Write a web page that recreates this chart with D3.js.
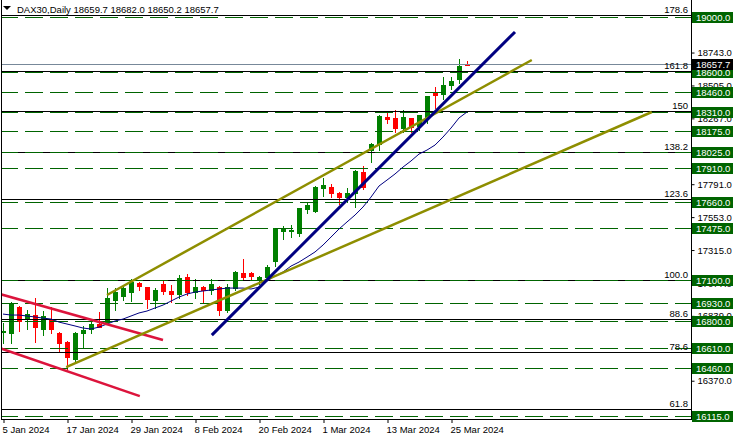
<!DOCTYPE html>
<html><head><meta charset="utf-8">
<script src="https://cdn.jsdelivr.net/npm/d3@7"></script>
<style>
body{margin:0;background:#fff;}
svg{display:block;}
text{font-family:"Liberation Sans",Arial,sans-serif;}
</style>
</head><body>
<svg id="c" width="736" height="439"></svg>
<script>
// ---------- DATA ----------
const symbolTitle = "DAX30,Daily";
const headerOHLC = ["18659.7", "18682.0", "18650.2", "18657.7"];
const dates = ["2024-01-05","2024-01-08","2024-01-09","2024-01-10","2024-01-11","2024-01-12","2024-01-15","2024-01-16","2024-01-17","2024-01-18","2024-01-19","2024-01-22","2024-01-23","2024-01-24","2024-01-25","2024-01-26","2024-01-29","2024-01-30","2024-01-31","2024-02-01","2024-02-02","2024-02-05","2024-02-06","2024-02-07","2024-02-08","2024-02-09","2024-02-12","2024-02-13","2024-02-14","2024-02-15","2024-02-16","2024-02-19","2024-02-20","2024-02-21","2024-02-22","2024-02-23","2024-02-26","2024-02-27","2024-02-28","2024-02-29","2024-03-01","2024-03-04","2024-03-05","2024-03-06","2024-03-07","2024-03-08","2024-03-11","2024-03-12","2024-03-13","2024-03-14","2024-03-15","2024-03-18","2024-03-19","2024-03-20","2024-03-21","2024-03-22","2024-03-25","2024-03-26","2024-03-27"];
const opens  = [16725,16715,16903,16816,16845,16744,16816,16715,16650,16527,16715,16744,16780,16794,16953,16982,17011,17076,17048,16953,17069,17019,16997,17120,17011,17048,17026,17048,16881,17040,17149,17149,17098,17120,17236,17452,17452,17438,17612,17597,17763,17771,17725,17700,17724,17879,18040,18085,18275,18270,18196,18270,18212,18279,18448,18443,18506,18549,18659.7];
const highs  = [16787,16939,16910,16881,16968,16874,16903,16722,16657,16720,16765,16802,16867,17040,17040,17062,17105,17084,17050,17040,17091,17062,17134,17142,17105,17055,17105,17055,17069,17163,17250,17156,17127,17207,17476,17489,17496,17621,17655,17778,17836,17792,17737,17763,17894,17923,18091,18291,18313,18324,18324,18273,18291,18432,18492,18564,18568,18694,18682.0];
const lows   = [16643,16643,16729,16744,16650,16700,16715,16585,16454,16505,16614,16715,16755,16780,16881,16953,16946,17026,16896,16896,16997,16939,16968,16990,16968,16939,16997,16845,16867,17026,17105,17098,17069,17105,17199,17395,17409,17416,17583,17590,17706,17700,17646,17664,17628,17754,17954,18038,18237,18165,18168,18168,18183,18236,18340,18405,18477,18525,18650.2];
const closes = [16730,16925,16802,16852,16758,16838,16744,16643,16541,16715,16736,16780,16758,16968,17011,17040,17084,17055,16961,17026,17019,16997,17113,17011,17048,17026,17069,16881,17048,17156,17120,17127,17120,17192,17474,17474,17460,17619,17640,17771,17785,17729,17696,17729,17886,17771,18082,18286,18262,18201,18275,18202,18289,18429,18438,18510,18539,18646,18657.7];
const movingAvg = [16852,16845,16845,16838,16831,16823,16816,16794,16780,16766,16751,16744,16758,16780,16802,16816,16838,16860,16874,16896,16917,16946,16975,16997,17011,17019,17026,17033,17040,17040,17040,17033,17047,17091,17127,17156,17199,17228,17264,17301,17351,17409,17467,17518,17568,17626,17698,17778,17821,17865,17915,17959,18009,18038,18074,18132,18197,18270,18313];
const srLevels = [19000,18600,18460,18310,18175,18025,17910,17660,17475,17100,16930,16800,16610,16460,16115];
const fibLabels = ["178.6","161.8","150","138.2","123.6","100.0","88.6","78.6","61.8"];
const fibPrices = [19015,18609,18322,18022,17685,17098,16814,16576,16163];
const priceTicks = [18743,18505,18267,17791,17553,17315,17077,16839,16370];
const dateTickIdx = [0,8,16,24,32,40,48,56];
const lastPrice = 18657.7;
// trend lines: [barIndex, price] endpoints
const redUpper   = [[-0.4,16997],[20,16664]];
const redLower   = [[-0.4,16606],[17.1,16259]];
const oliveLower = [[7.9,16469],[81.1,18313]];
const oliveUpper = [[13,16990],[66.1,18689]];
const navyLine   = [[26.1,16700],[64,18892]];

// ---------- CHART ----------
const svg = d3.select("#c");
const W = 736, H = 439, axisX = 691, bottomY = 419;
const yS = d3.scaleLinear().domain([16115,19000]).range([416,17]);
const xS = d3.scaleLinear().domain([0,58]).range([3,467]);
const parse = d3.timeParse("%Y-%m-%d"), fmt = d3.timeFormat("%-d %b %Y");

svg.append("rect").attr("width",W).attr("height",H).attr("fill","#fff");
svg.append("defs").append("clipPath").attr("id","clip")
  .append("rect").attr("x",2).attr("y",0).attr("width",axisX-2).attr("height",bottomY);
const plot = svg.append("g").attr("clip-path","url(#clip)");

const candles = plot.append("g").attr("shape-rendering","crispEdges");
const bars = dates.map((d,i)=>({i,o:opens[i],h:highs[i],l:lows[i],c:closes[i]}));
const col = d => d.c >= d.o ? "#008000" : "#ff0000";
candles.selectAll("line.w").data(bars).join("line")
  .attr("x1",d=>xS(d.i)+0.5).attr("x2",d=>xS(d.i)+0.5)
  .attr("y1",d=>Math.round(yS(d.h))).attr("y2",d=>Math.round(yS(d.l))+1)
  .attr("stroke",col).attr("stroke-width",1);
candles.selectAll("rect.b").data(bars).join("rect")
  .attr("x",d=>xS(d.i)-2).attr("width",5)
  .attr("y",d=>Math.round(yS(Math.max(d.o,d.c))))
  .attr("height",d=>Math.max(2,Math.round(yS(Math.min(d.o,d.c)))-Math.round(yS(Math.max(d.o,d.c)))+1))
  .attr("fill",col);

// fib black lines
const hl = plot.append("g").attr("shape-rendering","crispEdges");
hl.selectAll("line.f").data(fibPrices).join("line")
  .attr("x1",0).attr("x2",axisX)
  .attr("y1",d=>Math.round(yS(d))+0.5).attr("y2",d=>Math.round(yS(d))+0.5)
  .attr("stroke","#000").attr("stroke-width",1);
// green dashed S/R lines
hl.selectAll("line.s").data(srLevels).join("line")
  .attr("x1",0).attr("x2",axisX)
  .attr("y1",d=>Math.round(yS(d))+0.5).attr("y2",d=>Math.round(yS(d))+0.5)
  .attr("stroke","#006400").attr("stroke-width",1).attr("stroke-dasharray","18,7");
// bid line
hl.append("line").attr("x1",0).attr("x2",axisX)
  .attr("y1",Math.round(yS(lastPrice))+0.5).attr("y2",Math.round(yS(lastPrice))+0.5)
  .attr("stroke","#778899");

// moving average
plot.append("path").datum(movingAvg)
  .attr("d",d3.line().x((d,i)=>xS(i)).y(d=>yS(d)))
  .attr("fill","none").attr("stroke","#000080").attr("stroke-width",1);

// trend lines
const tl = d3.line().x(d=>xS(d[0])).y(d=>yS(d[1]));
[[redUpper,"#dc143c"],[redLower,"#dc143c"],[oliveLower,"#8e8e00"],[oliveUpper,"#8e8e00"],[navyLine,"#000080"]]
  .forEach(([pts,c])=>{
    plot.append("path").datum(pts).attr("d",tl).attr("fill","none")
      .attr("stroke",c).attr("stroke-width",c==="#000080"?3:2.5);
  });

// fib labels
svg.selectAll("text.fl").data(fibPrices).join("text")
  .attr("x",688).attr("y",d=>Math.round(yS(d))-2)
  .attr("text-anchor","end").attr("font-size",9.5).attr("fill","#000")
  .text((d,i)=>fibLabels[i]);

// frame
svg.append("line").attr("x1",1.5).attr("x2",1.5).attr("y1",0).attr("y2",bottomY).attr("stroke","#000");
svg.append("line").attr("x1",axisX+0.5).attr("x2",axisX+0.5).attr("y1",0).attr("y2",bottomY).attr("stroke","#000");
svg.append("line").attr("x1",1).attr("x2",axisX+1).attr("y1",bottomY+0.5).attr("y2",bottomY+0.5).attr("stroke","#000");

// right axis
const ax = svg.append("g").attr("transform",`translate(${axisX+0.5},0)`)
  .call(d3.axisRight(yS).tickValues(priceTicks).tickFormat(d3.format(".1f")).tickSize(3).tickPadding(3));
ax.select(".domain").remove();
ax.selectAll("text").attr("font-size",9.5).attr("fill","#000").attr("font-family","Liberation Sans, Arial, sans-serif");
ax.selectAll("line").attr("stroke","#000");

// S/R label boxes
const boxes = svg.append("g");
srLevels.forEach(p=>{
  const y = Math.round(yS(p));
  boxes.append("rect").attr("x",axisX+1).attr("y",y-5).attr("width",41).attr("height",11).attr("fill","#006400");
  boxes.append("text").attr("x",axisX+5).attr("y",y+4).attr("font-size",9.5).attr("fill","#fff").text(d3.format(".1f")(p));
});
{
  const y = Math.round(yS(lastPrice));
  boxes.append("rect").attr("x",axisX+1).attr("y",y-5).attr("width",41).attr("height",11).attr("fill","#000");
  boxes.append("text").attr("x",axisX+5).attr("y",y+4).attr("font-size",9.5).attr("fill","#fff").text(d3.format(".1f")(lastPrice));
}

// bottom date axis
const bx = svg.append("g").attr("transform",`translate(0,${bottomY})`)
  .call(d3.axisBottom(xS).tickValues(dateTickIdx).tickFormat(i=>fmt(parse(dates[i]))).tickSize(4).tickPadding(3));
bx.select(".domain").remove();
bx.selectAll("line").attr("stroke","#000").attr("transform","translate(0.5,0)");
bx.selectAll("text").attr("text-anchor","start").attr("dx",-1).attr("font-size",9.5)
  .attr("fill","#000").attr("font-family","Liberation Sans, Arial, sans-serif");

// header
svg.append("path").attr("d","M3,6 L11,6 L7,10 Z").attr("fill","#000");
svg.append("text").attr("x",17).attr("y",13).attr("font-size",9.5).attr("fill","#000")
  .text(symbolTitle + "  " + headerOHLC.join(" "));
</script>
</body></html>
